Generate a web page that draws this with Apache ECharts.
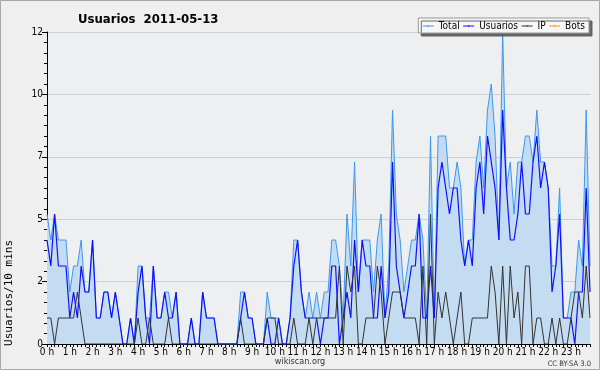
<!DOCTYPE html>
<html><head><meta charset="utf-8">
<script src="https://cdn.jsdelivr.net/npm/echarts@6/dist/echarts.min.js"></script>
<style>html,body{margin:0;padding:0;background:#fff}#c{width:600px;height:370px}</style>
</head><body><div id="c"></div>
<script>
const hourLabels = ['0 h','1 h','2 h','3 h','4 h','5 h','6 h','7 h','8 h','9 h','10 h','11 h','12 h','13 h','14 h','15 h','16 h','17 h','18 h','19 h','20 h','21 h','22 h','23 h'];
const yTickLabels = ['0','2','5','7','10','12'];
const times = [];
for (let h = 0; h < 24; h++) for (let m = 0; m < 60; m += 10) times.push(h + ':' + (m < 10 ? '0' : '') + m);

const usuarios = [
4,3,5,3,3,3,1,2,1,3,2,2,
4,1,1,2,2,1,2,1,0,0,1,0,
2,3,1,0,3,1,1,2,1,1,2,0,
0,0,1,0,0,2,1,1,1,0,0,0,
0,0,0,1,2,1,1,0,0,0,1,0,
0,1,0,0,1,3,4,2,1,1,1,1,
0,1,1,3,3,0,1,2,1,4,2,4,
3,3,1,1,3,1,2,7,3,2,1,2,
3,3,5,1,1,3,1,6,7,6,5,6,
6,4,3,4,3,6,7,5,8,7,6,4,
9,6,4,4,5,7,5,5,7,8,6,7,
6,2,3,5,1,1,1,0,2,2,6,2];
const ip = [
1,1,0,1,1,1,1,1,2,1,0,0,
0,0,0,0,0,0,0,0,0,0,0,0,
1,0,0,1,0,0,0,0,1,0,0,0,
0,0,0,0,0,0,0,0,0,0,0,0,
0,0,0,1,0,0,0,0,0,0,1,1,
1,0,0,0,0,1,0,0,0,1,0,1,
1,1,1,1,1,3,0,3,2,3,0,0,
1,1,1,3,2,0,1,2,2,2,1,1,
1,1,0,3,0,5,0,2,1,2,1,0,
1,2,0,0,1,1,1,1,1,3,2,0,
3,0,3,1,2,0,3,3,0,1,1,0,
0,1,0,1,0,0,1,2,2,1,3,1];
const total = [
5,4,5,4,4,4,2,3,3,4,2,2,
4,1,1,2,2,1,2,1,0,0,1,0,
3,3,1,1,3,1,1,2,2,1,2,0,
0,0,1,0,0,2,1,1,1,0,0,0,
0,0,0,2,2,1,1,0,0,0,2,1,
1,1,0,0,1,4,4,2,1,2,1,2,
1,2,2,4,4,3,1,5,3,7,2,4,
4,4,2,4,5,1,3,9,5,4,2,3,
4,4,5,4,1,8,1,8,8,8,6,6,
7,6,3,4,4,7,8,6,9,10,8,4,
12,6,7,5,7,7,8,8,7,9,7,7,
6,3,3,6,1,1,2,2,4,3,9,3];
const bots = [
0,0,0,0,0,0,0,0,0,0,0,0,0,0,0,0,0,0,0,0,0,0,0,0,
0,0,0,0,0,0,0,0,0,0,0,0,0,0,0,0,0,0,0,0,0,0,0,0,
0,0,0,0,0,0,0,0,0,0,0,0,0,0,0,0,0,0,0,0,0,0,0,0,
0,0,0,0,0,0,0,0,0,0,0,0,0,0,0,0,0,0,0,0,0,0,0,0,
0,0,0,0,0,0,0,0,0,0,0,0,0,0,0,0,0,0,0,0,0,0,0,0,
0,0,0,0,0,0,0,0,0,0,0,0,0,0,0,0,0,0,0,0,0,0,0,0];

const FONT = "'DejaVu Sans Condensed','Liberation Sans Narrow','DejaVu Sans',sans-serif";
const C_TOTAL = '#3a98f2', C_USR = '#1010ff', C_IP = '#333333', C_BOTS = '#ff9a00';
const chart = echarts.init(document.getElementById('c'), null, {renderer: 'canvas'});
chart.setOption({
  backgroundColor: '#efefef',
  animation: false,
  textStyle: {fontFamily: FONT},
  title: {
    text: 'Usuarios  2011-05-13', left: 73, top: 8,
    textStyle: {fontFamily: FONT, fontSize: 13, fontWeight: 'bold', color: '#000'}
  },
  legend: {
    right: 11, top: 18, padding: [3, 4, 2, 4], itemGap: 3,
    itemWidth: 11, itemHeight: 2,
    backgroundColor: '#f7f7f7', borderColor: '#999', borderWidth: 1,
    shadowColor: 'rgba(90,90,90,0.9)', shadowOffsetX: 3, shadowOffsetY: 3, shadowBlur: 0,
    textStyle: {fontFamily: FONT, fontSize: 10, color: '#000'},
    data: [
      {name: 'Total', itemStyle: {color: C_TOTAL}, lineStyle: {color: C_TOTAL, width: 1, opacity: 1}},
      {name: 'Usuarios', itemStyle: {color: C_USR}, lineStyle: {color: C_USR, width: 1, opacity: 1}},
      {name: 'IP', itemStyle: {color: C_IP}, lineStyle: {color: C_IP, width: 1, opacity: 1}},
      {name: 'Bots', itemStyle: {color: C_BOTS}, lineStyle: {color: C_BOTS, width: 1, opacity: 1}}
    ]
  },
  graphic: [
    {type: 'rect', silent: true, z: 100, shape: {x: 0.5, y: 0.5, width: 599, height: 369},
     style: {fill: 'none', stroke: '#a8a8a8', lineWidth: 1}},
    {type: 'text', left: 'center', top: 357, style: {text: 'wikiscan.org', font: "9px " + FONT, fill: '#333'}},
    {type: 'text', right: 9, top: 360, style: {text: 'CC BY-SA 3.0', font: "7.5px " + FONT, fill: '#333'}},
    {type: 'text', left: 4, top: 240, rotation: Math.PI / 2,
     style: {text: 'Usuarios/10 mins', font: "11px 'DejaVu Sans Mono', monospace", fill: '#000'}}
  ],
  grid: {left: 47, right: 10, top: 32, bottom: 26, show: true, backgroundColor: '#eeeff1', borderWidth: 0},
  xAxis: {
    type: 'category', data: times, boundaryGap: false,
    axisLine: {lineStyle: {color: '#000', width: 1}},
    axisTick: {interval: 0, length: 3, lineStyle: {color: '#000'}},
    axisLabel: {interval: 5, fontSize: 10, color: '#000', margin: 3, fontFamily: FONT,
      formatter: (v, i) => hourLabels[i / 6]},
    splitLine: {show: false}
  },
  yAxis: {
    type: 'value', min: 0, max: 12, interval: 2.4,
    axisLine: {show: true, lineStyle: {color: '#000'}},
    axisTick: {show: true, length: 5, lineStyle: {color: '#000'}},
    minorTick: {show: true, splitNumber: 6, length: 3, lineStyle: {color: '#000'}},
    axisLabel: {fontSize: 10, color: '#000', margin: 4, fontFamily: FONT,
      formatter: v => yTickLabels[Math.round(v / 2.4)]},
    splitLine: {show: true, lineStyle: {color: '#cfcfcf', width: 1}}
  },
  series: [
    {name: 'Total', type: 'line', data: total, symbol: 'none', color: C_TOTAL,
     lineStyle: {width: 1, color: C_TOTAL}, areaStyle: {color: '#c4dcf1', opacity: 1}, z: 2},
    {name: 'Usuarios', type: 'line', data: usuarios, symbol: 'none', color: C_USR,
     lineStyle: {width: 1.2, color: C_USR}, z: 3},
    {name: 'IP', type: 'line', data: ip, symbol: 'none', color: C_IP,
     lineStyle: {width: 1, color: C_IP}, z: 4},
    {name: 'Bots', type: 'line', data: bots, symbol: 'none', color: C_BOTS,
     lineStyle: {width: 1, color: C_BOTS, opacity: 0}, z: 1}
  ]
});
</script></body></html>
